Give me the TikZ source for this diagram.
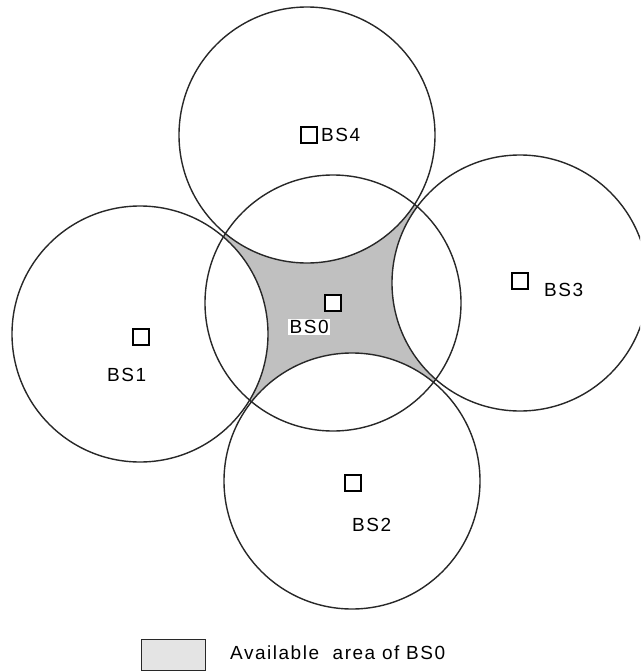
\documentclass[tikz,border=0pt]{standalone}
\usepackage{fontspec}
\newfontfamily\lblfont[LetterSpace=8]{Liberation Sans}
\definecolor{areagray}{RGB}{192,192,192}
\definecolor{keygray}{RGB}{228,228,228}
\definecolor{inkgray}{RGB}{40,40,40}

\begin{document}
\begin{tikzpicture}[x=1pt,y=-1pt,
  cell/.style={draw=inkgray, line width=1.4pt},
  bsmark/.style={draw=black, fill=white, line width=1.4pt, minimum size=16pt, inner sep=0pt},
  bslabel/.style={font=\lblfont\fontsize{19}{21}\selectfont, inner sep=0pt, anchor=west}]

\useasboundingbox (0,0) rectangle (640,672);
\clip (0,0) rectangle (640,672);

\coordinate (c0) at (333,303);
\coordinate (c1) at (140,334);
\coordinate (c2) at (352,481);
\coordinate (c3) at (520,283);
\coordinate (c4) at (307,135);

% available area of BS0
\fill [areagray] (c0) circle [radius=128pt];
\foreach \n in {1,2,3,4}
  \fill [white] (c\n) circle [radius=128pt];

\foreach \n in {0,1,2,3,4}
  \draw [cell] (c\n) circle [radius=128pt];

\node [bsmark] (m0) at (333,303) {};
\node [bsmark] (m1) at (141,337) {};
\node [bsmark] (m2) at (353,483) {};
\node [bsmark] (m3) at (520,281) {};
\node [bsmark] (m4) at (309,135) {};

\node [bslabel, fill=white, inner sep=1.5pt] (l0) at (288,327) {BS0};
\node [bslabel] (l1) at (107,375) {BS1};
\node [bslabel] (l2) at (352,525) {BS2};
\node [bslabel] (l3) at (544,290) {BS3};
\node [bslabel] (l4) at (321,135) {BS4};

\node [draw=inkgray, fill=keygray, line width=1.4pt, minimum width=64pt, minimum height=31pt, inner sep=0pt] (key) at (173.5,655) {};
\node [bslabel] (keytext) at (230,653) {Available\ \ area of BS0};

\end{tikzpicture}
\end{document}
